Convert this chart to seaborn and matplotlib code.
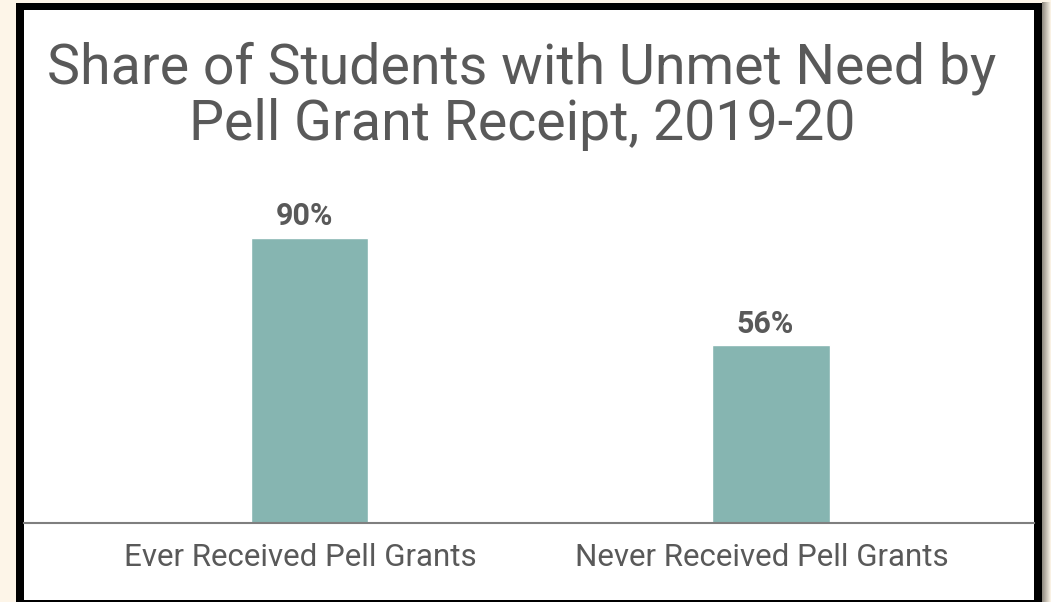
import matplotlib
matplotlib.use("Agg")
import matplotlib.pyplot as plt
import matplotlib.transforms as mtrans
import seaborn as sns
import pandas as pd
from matplotlib.patches import Rectangle
import numpy as np

categories = ["Ever Received Pell Grants", "Never Received Pell Grants"]
values = [90, 56]
value_labels = ["90%", "56%"]
title = "Share of Students with Unmet Need by\nPell Grant Receipt, 2019-20"

sns.set_theme(style="white")
plt.rcParams['font.family'] = ['Roboto', 'DejaVu Sans']

W, H = 1051, 602
fig = plt.figure(figsize=(W / 100, H / 100), dpi=100)
fig.patch.set_facecolor("#FDF5E8")

def fx(px):
    return px / W

def fy(py):
    return 1 - py / H

# black frame and white panel
fig.patches.append(Rectangle((fx(16), 0), fx(1042 - 16), fy(2.5), transform=fig.transFigure,
                             facecolor="black", edgecolor="none", zorder=-3))
fig.patches.append(Rectangle((fx(24), fy(600)), fx(1034 - 24), fy(10) - fy(600), transform=fig.transFigure,
                             facecolor="white", edgecolor="none", zorder=-2))

# shadow gradient on right
grad = np.linspace(0, 1, 20)[None, :]
sh = fig.add_axes([fx(1042), 0, fx(9), 1 - 2 / H])
sh.imshow(grad, aspect="auto", cmap=matplotlib.colors.LinearSegmentedColormap.from_list(
    "s", ["#8f8a80", "#FDF5E8"]), extent=[0, 1, 0, 1])
sh.axis("off")

# axes
ax_left, ax_right = 24, 1034
ax_top, ax_bottom = 206, 522.5
ax = fig.add_axes([fx(ax_left), fy(ax_bottom), fx(ax_right - ax_left), fy(ax_top) - fy(ax_bottom)])
ax.set_facecolor("none")
ax.set_zorder(2)

df = pd.DataFrame({"cat": categories, "val": values})
sns.barplot(data=df, x="cat", y="val", color="#86B5B1", saturation=1, width=0.254, ax=ax)

ax.set_ylim(0, 100)
ax.set_xlim(-0.619, 1.57)
ax.set_ylabel("")
ax.set_xlabel("")
ax.set_yticks([])
for s in ["top", "left", "right"]:
    ax.spines[s].set_visible(False)
ax.spines["bottom"].set_color("#7f7f7f")
ax.spines["bottom"].set_linewidth(1.5)
ax.tick_params(axis="x", length=0, pad=15, labelsize=22.5, labelcolor="#595959")
shift = mtrans.ScaledTranslation(-9 / 100, 0, fig.dpi_scale_trans)
for t in ax.get_xticklabels():
    t.set_transform(t.get_transform() + shift)

for i, (v, lab) in enumerate(zip(values, value_labels)):
    ax.annotate(lab, (i, v), xytext=(-4, 9), textcoords="offset points", ha="center", va="baseline",
                fontsize=22, fontweight="bold", color="#595959")

fig.text(fx(522), fy(140), title, ha="center", va="baseline", fontsize=40, color="#595959",
         fontweight="normal", linespacing=1.08, zorder=3)

fig.savefig("out.png", dpi=100, facecolor=fig.get_facecolor())
